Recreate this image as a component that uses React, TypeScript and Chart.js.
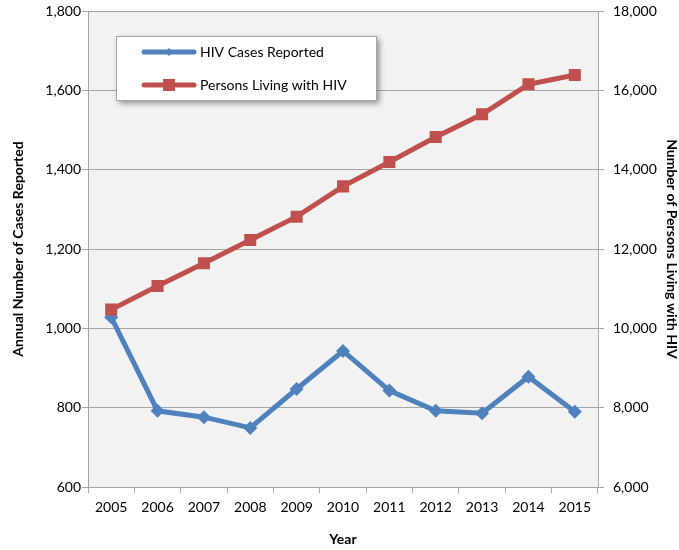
import React, { useEffect, useRef } from "react";
import { Chart, registerables } from "chart.js";

Chart.register(...registerables);

const years = ["2005", "2006", "2007", "2008", "2009", "2010", "2011", "2012", "2013", "2014", "2015"];
const casesReported = [1028, 792, 776, 749, 847, 943, 843, 792, 786, 878, 790];
const personsLiving = [10472, 11067, 11639, 12227, 12815, 13579, 14194, 14825, 15395, 16151, 16386];
const seriesNames = ["HIV Cases Reported", "Persons Living with HIV"];
const axisTitles = { x: "Year", left: "Annual Number of Cases Reported", right: "Number of Persons Living with HIV" };

const BLUE = "#4f81bd";
const RED = "#c0504d";
const GRID = "#a6a6a6";
const FONT = "Lato, 'Open Sans', sans-serif";

const fmt = (v: number) => v.toLocaleString("en-US");

const bgPlugin = {
  id: "plotBg",
  beforeDraw(chart: any) {
    const { ctx, chartArea } = chart;
    ctx.save();
    ctx.fillStyle = "#f2f2f2";
    ctx.fillRect(chartArea.left, chartArea.top, chartArea.right - chartArea.left, chartArea.bottom - chartArea.top);
    ctx.restore();
  },
};

const legendPlugin = {
  id: "boxLegend",
  afterDatasetsDraw(chart: any) {
    const { ctx } = chart;
    const x = 116, y = 36, w = 260, h = 64;
    ctx.save();
    ctx.shadowColor = "rgba(0,0,0,0.45)";
    ctx.shadowBlur = 6;
    ctx.shadowOffsetX = 3;
    ctx.shadowOffsetY = 3;
    ctx.fillStyle = "#ffffff";
    ctx.fillRect(x, y, w, h);
    ctx.restore();
    ctx.save();
    ctx.strokeStyle = "#a6a6a6";
    ctx.lineWidth = 1;
    ctx.strokeRect(x + 0.5, y + 0.5, w, h);
    const items = [
      { color: BLUE, style: "diamond", cy: 52 },
      { color: RED, style: "square", cy: 85 },
    ];
    items.forEach((it, i) => {
      ctx.strokeStyle = it.color;
      ctx.lineWidth = 5;
      ctx.lineCap = "round";
      ctx.beginPath();
      ctx.moveTo(144, it.cy);
      ctx.lineTo(194, it.cy);
      ctx.stroke();
      ctx.fillStyle = it.color;
      ctx.beginPath();
      if (it.style === "diamond") {
        const r = 4;
        ctx.moveTo(169, it.cy - r);
        ctx.lineTo(169 + r, it.cy);
        ctx.lineTo(169, it.cy + r);
        ctx.lineTo(169 - r, it.cy);
        ctx.closePath();
      } else {
        ctx.rect(163, it.cy - 6, 12, 12);
      }
      ctx.fill();
      ctx.fillStyle = "#000000";
      ctx.font = "14px " + FONT;
      ctx.textBaseline = "middle";
      ctx.textAlign = "left";
      ctx.fillText(seriesNames[i], 200, it.cy);
    });
    ctx.restore();
  },
};

export default function App() {
  const ref = useRef<HTMLCanvasElement | null>(null);
  useEffect(() => {
    if (!ref.current) return;
    const chart = new Chart(ref.current, {
      type: "line",
      data: {
        labels: years,
        datasets: [
          {
            label: seriesNames[0],
            data: casesReported,
            yAxisID: "y",
            borderColor: BLUE,
            backgroundColor: BLUE,
            borderWidth: 5,
            pointStyle: "rectRot",
            pointRadius: 7,
            pointBorderWidth: 0,
            order: 2,
          },
          {
            label: seriesNames[1],
            data: personsLiving,
            yAxisID: "y1",
            borderColor: RED,
            backgroundColor: RED,
            borderWidth: 5,
            pointStyle: "rect",
            pointRadius: 8.5,
            pointBorderWidth: 0,
            order: 1,
          },
        ],
      },
      options: {
        animation: false,
        responsive: true,
        maintainAspectRatio: false,
        layout: { padding: { top: 11, left: 0, right: 0, bottom: 0 } },
        plugins: { legend: { display: false }, tooltip: { enabled: false } },
        scales: {
          x: {
            offset: true,
            grid: { drawOnChartArea: false, drawTicks: true, tickLength: 6, color: GRID, offset: true },
            border: { display: true, color: GRID },
            ticks: { color: "#000", font: { family: FONT, size: 14 }, padding: 6, maxRotation: 0 },
            title: {
              display: true,
              text: axisTitles.x,
              color: "#000",
              font: { family: FONT, size: 14, weight: "bold", lineHeight: 1 },
              padding: { top: 4, bottom: 4 },
            },
            afterFit: (s: any) => { s.height = 63; s.paddingLeft = 0; s.paddingRight = 0; },
          },
          y: {
            position: "left",
            min: 600,
            max: 1800,
            grid: { color: GRID, tickLength: 6 },
            border: { display: true, color: GRID },
            ticks: { stepSize: 200, color: "#000", font: { family: FONT, size: 14 }, padding: 1, callback: (v: any) => fmt(Number(v)) },
            title: {
              display: true,
              text: axisTitles.left,
              color: "#000",
              font: { family: FONT, size: 14, weight: "bold", lineHeight: 1 },
              padding: { top: 11, bottom: 11 },
            },
            afterFit: (s: any) => { s.width = 88; s.paddingTop = 0; s.paddingBottom = 0; },
          },
          y1: {
            position: "right",
            min: 6000,
            max: 18000,
            grid: { drawOnChartArea: false, color: GRID, tickLength: 6 },
            border: { display: true, color: GRID },
            ticks: { stepSize: 2000, color: "#000", font: { family: FONT, size: 14 }, padding: 9, callback: (v: any) => fmt(Number(v)) },
            title: {
              display: true,
              text: axisTitles.right,
              color: "#000",
              font: { family: FONT, size: 14, weight: "bold", lineHeight: 1 },
              padding: { top: 0, bottom: 0 },
            },
            afterFit: (s: any) => { s.width = 81; s.paddingTop = 0; s.paddingBottom = 0; },
          },
        },
      },
      plugins: [bgPlugin, legendPlugin],
    } as any);
    return () => chart.destroy();
  }, []);
  return (
    <div style={{ position: "absolute", left: 0, top: 0, width: 679, height: 550, background: "#fff" }}>
      <canvas ref={ref} />
    </div>
  );
}
